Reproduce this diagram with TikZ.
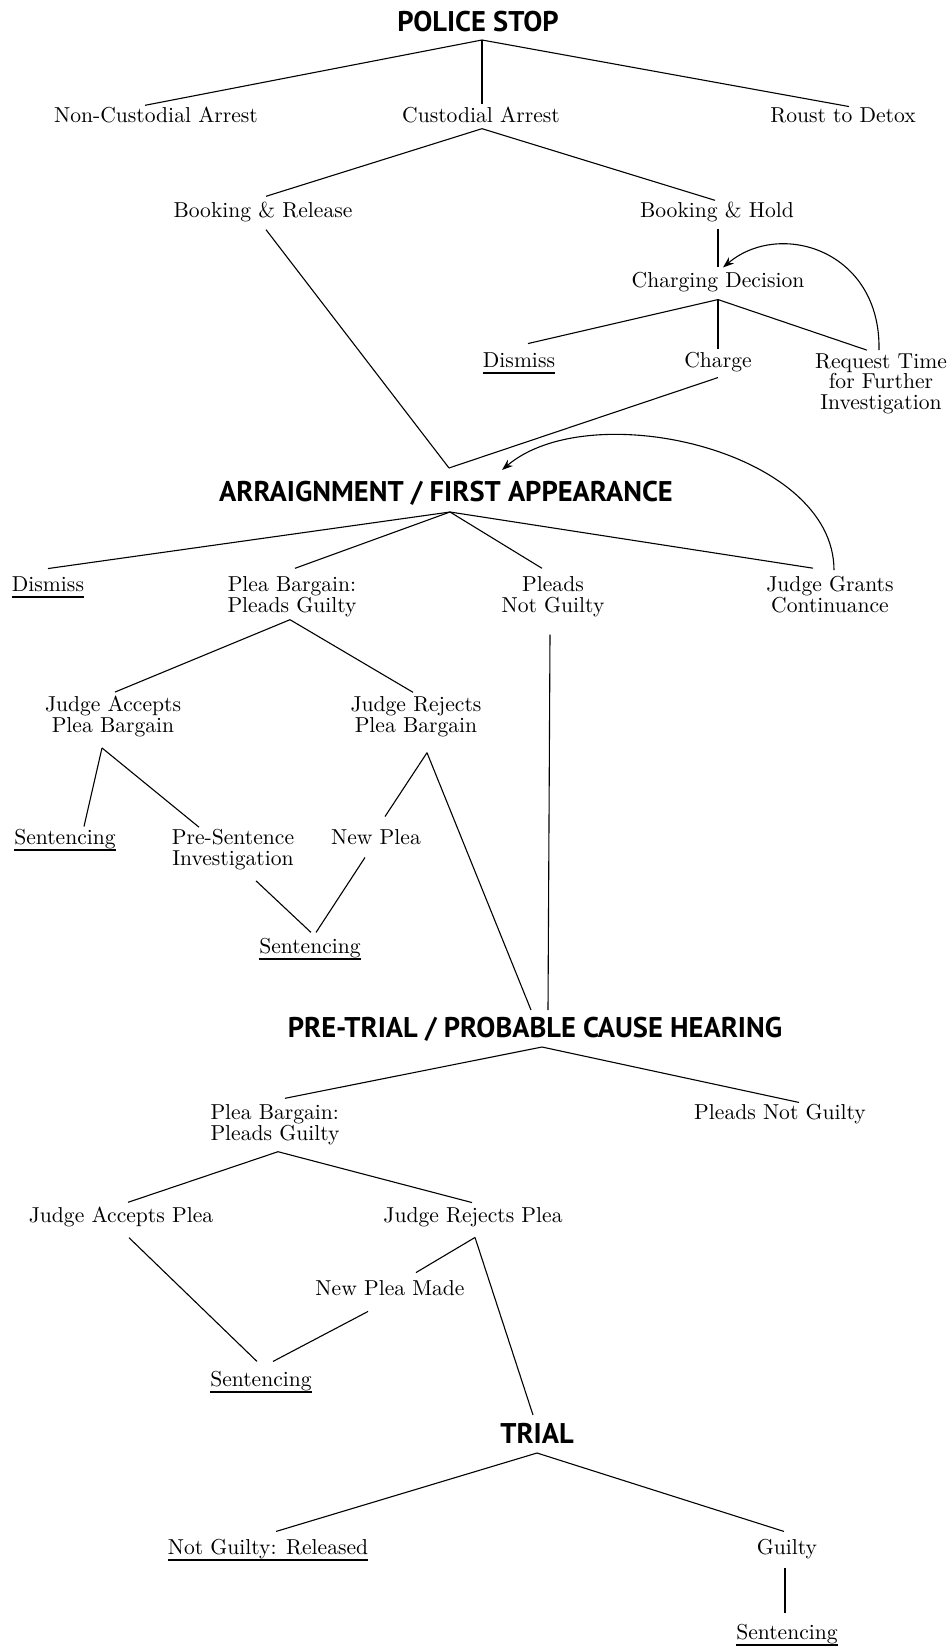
\documentclass[tikz,border=0pt]{standalone}
\usepackage{fontspec}
\usetikzlibrary{arrows.meta}
\newfontfamily\hdfont{PT Sans}
\newfontfamily\txtfont{lmroman10-regular}[Extension=.otf]
\newcommand\mystrut{\rule[-5.5pt]{0pt}{20.5pt}}
\newsavebox\ulbox
\newcommand\ulx[1]{\sbox\ulbox{#1}\rlap{\smash{\rule[-6.5pt]{\wd\ulbox}{2pt}}}\usebox\ulbox}
\begin{document}
\begin{tikzpicture}[x=1pt,y=-1pt,
  lbl/.style={inner sep=0pt, align=center, font=\txtfont\fontsize{21.6}{20.5}\selectfont,
    execute at begin node=\mystrut, execute at end node=\mystrut},
  hd/.style={inner sep=0pt, anchor=base, font=\hdfont\bfseries\fontsize{28.5}{28.5}\selectfont},
  conn/.style={line width=1.1pt},
  back/.style={line width=1.1pt, -{Stealth[length=11pt,width=8pt]}}]
\useasboundingbox (0,0) rectangle (948,1646);

% headings
\node[hd] (ps)  at (478,32)   {POLICE STOP};
\node[hd] (arr) at (446,501)  {ARRAIGNMENT / FIRST APPEARANCE};
\node[hd] (ptr) at (535,1037) {PRE-TRIAL / PROBABLE CAUSE HEARING};
\node[hd] (tr)  at (537,1443) {TRIAL};

% labels
\node[lbl] (nca)  at (156,118)  {Non-Custodial Arrest};
\node[lbl] (ca)   at (481,118)  {Custodial Arrest};
\node[lbl] (rd)   at (843,118)  {Roust to Detox};
\node[lbl] (br)   at (263,213)  {Booking \& Release};
\node[lbl] (bh)   at (717,213)  {Booking \& Hold};
\node[lbl] (cd)   at (718,283)  {Charging Decision};
\node[lbl] (dis1) at (519,363)  {\ulx{Dismiss}};
\node[lbl] (ch)   at (718,363)  {Charge};
\node[lbl] (rt)   at (881,384)  {Request Time\\for Further\\Investigation};
\node[lbl] (dis2) at (48,587)   {\ulx{Dismiss}};
\node[lbl] (pb1)  at (292,597)  {Plea Bargain:\\Pleads Guilty};
\node[lbl] (png1) at (553,597)  {Pleads\\Not Guilty};
\node[lbl] (jgc)  at (830,597)  {Judge Grants\\Continuance};
\node[lbl] (ja1)  at (113,717)  {Judge Accepts\\Plea Bargain};
\node[lbl] (jr1)  at (416,717)  {Judge Rejects\\Plea Bargain};
\node[lbl] (sen1) at (65,840)   {\ulx{Sentencing}};
\node[lbl] (psi)  at (233,850)  {Pre-Sentence\\Investigation};
\node[lbl] (np1)  at (376,840)  {New Plea};
\node[lbl] (sen2) at (310,949)  {\ulx{Sentencing}};
\node[lbl,align=left] (pb2) at (275,1125) {Plea Bargain:\\Pleads Guilty};
\node[lbl] (png2) at (780,1115) {Pleads Not Guilty};
\node[lbl] (ja2)  at (121,1218) {Judge Accepts Plea};
\node[lbl] (jr2)  at (473,1218) {Judge Rejects Plea};
\node[lbl] (npm)  at (390,1291) {New Plea Made};
\node[lbl] (sen3) at (261,1382) {\ulx{Sentencing}};
\node[lbl] (ngr)  at (268,1550) {\ulx{Not Guilty: Released}};
\node[lbl] (gu)   at (787,1550) {Guilty};
\node[lbl] (sen4) at (787,1635) {\ulx{Sentencing}};

% connectors
\draw[conn] ([xshift=4pt,yshift=-8pt]ps.base) -- ([xshift=-11pt,yshift=2pt]nca.north);
\draw[conn] ([xshift=4pt,yshift=-8pt]ps.base) -- ([xshift=1pt,yshift=3pt]ca.north);
\draw[conn] ([xshift=4pt,yshift=-8pt]ps.base) -- ([xshift=6pt,yshift=1pt]rd.north);
\draw[conn] ([xshift=1pt]ca.south) -- ([xshift=3pt,yshift=6pt]br.north);
\draw[conn] ([xshift=1pt]ca.south) -- ([xshift=-2pt,yshift=2pt]bh.north);
\draw[conn] ([xshift=3pt,yshift=-6pt]br.south) -- ([xshift=3pt,yshift=33pt]arr.base);
\draw[conn] ([xshift=1pt,yshift=-5pt]bh.south) -- ([yshift=5pt]cd.north);
\draw[conn] ([yshift=-6pt]cd.south) -- ([xshift=9pt,yshift=9pt]dis1.north);
\draw[conn] ([yshift=-6pt]cd.south) -- ([yshift=3pt]ch.north);
\draw[conn] ([yshift=-6pt]cd.south) -- ([xshift=-14pt,yshift=3pt]rt.north);
\draw[back] ([xshift=-2pt,yshift=3pt]rt.north) .. controls +(2,-100) and +(57,-48) .. ([xshift=5pt,yshift=5pt]cd.north);
\draw[conn] ([yshift=-4pt]ch.south) -- ([xshift=3pt,yshift=33pt]arr.base);
\draw[back] ([xshift=4pt,yshift=6pt]jgc.north) .. controls +(0,-120) and +(88,-75) .. ([xshift=56pt,yshift=31pt]arr.base);
\draw[conn] ([xshift=4pt,yshift=-11pt]arr.base) -- ([yshift=8pt]dis2.north);
\draw[conn] ([xshift=4pt,yshift=-11pt]arr.base) -- ([xshift=3pt,yshift=8pt]pb1.north);
\draw[conn] ([xshift=4pt,yshift=-11pt]arr.base) -- ([xshift=-11pt,yshift=8pt]png1.north);
\draw[conn] ([xshift=4pt,yshift=-11pt]arr.base) -- ([xshift=-17pt,yshift=8pt]jgc.north);
\draw[conn] ([xshift=-2pt,yshift=-2pt]pb1.south) -- ([xshift=2pt,yshift=4pt]ja1.north);
\draw[conn] ([xshift=-2pt,yshift=-2pt]pb1.south) -- ([xshift=-3pt,yshift=4pt]jr1.north);
\draw[conn] ([xshift=-3pt,yshift=-17pt]png1.south) -- ([xshift=13pt,yshift=27pt]ptr.base);
\draw[conn] ([xshift=-11pt,yshift=-10pt]ja1.south) -- ([xshift=19pt,yshift=3pt]sen1.north);
\draw[conn] ([xshift=-11pt,yshift=-10pt]ja1.south) -- ([xshift=-34pt,yshift=2pt]psi.north);
\draw[conn] ([xshift=11pt,yshift=-15pt]jr1.south) -- ([xshift=9pt,yshift=13pt]np1.north);
\draw[conn] ([xshift=11pt,yshift=-15pt]jr1.south) -- ([xshift=-4pt,yshift=27pt]ptr.base);
\draw[conn] ([xshift=23pt,yshift=-10pt]psi.south) -- ([xshift=1pt,yshift=6pt]sen2.north);
\draw[conn] ([xshift=-11pt,yshift=-7pt]np1.south) -- ([xshift=6pt,yshift=6pt]sen2.north);
\draw[conn] ([xshift=7pt,yshift=-10pt]ptr.base) -- ([xshift=10pt,yshift=6pt]pb2.north);
\draw[conn] ([xshift=7pt,yshift=-10pt]ptr.base) -- ([xshift=19pt,yshift=2pt]png2.north);
\draw[conn] ([xshift=3pt,yshift=-6pt]pb2.south) -- ([xshift=7pt,yshift=5pt]ja2.north);
\draw[conn] ([xshift=3pt,yshift=-6pt]pb2.south) -- ([xshift=-1pt,yshift=5pt]jr2.north);
\draw[conn] ([xshift=8pt,yshift=-9pt]ja2.south) -- ([xshift=-4pt,yshift=10pt]sen3.north);
\draw[conn] ([xshift=2pt,yshift=-9pt]jr2.south) -- ([xshift=26pt,yshift=8pt]npm.north);
\draw[conn] ([xshift=2pt,yshift=-9pt]jr2.south) -- ([xshift=-4pt,yshift=28pt]tr.base);
\draw[conn] ([xshift=-22pt,yshift=-10pt]npm.south) -- ([xshift=12pt,yshift=10pt]sen3.north);
\draw[conn] ([yshift=-10pt]tr.base) -- ([xshift=8pt,yshift=8pt]ngr.north);
\draw[conn] ([yshift=-10pt]tr.base) -- ([xshift=-3pt,yshift=8pt]gu.north);
\draw[conn] ([xshift=-2pt,yshift=-7pt]gu.south) -- ([xshift=-2pt,yshift=11pt]sen4.north);
\end{tikzpicture}
\end{document}
